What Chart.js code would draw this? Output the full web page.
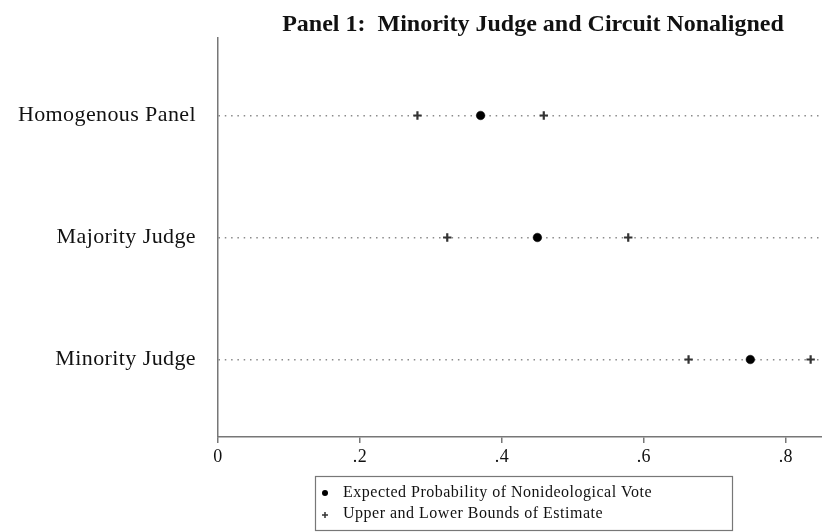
<!DOCTYPE html>
<html>
<head>
<meta charset="utf-8">
<script src="https://cdn.jsdelivr.net/npm/chart.js@4/dist/chart.umd.min.js"></script>
<style>
  html, body { margin: 0; padding: 0; background: #fff; }
  #wrap { width: 822px; height: 532px; }
</style>
</head>
<body>
<div id="wrap"><canvas id="c" width="822" height="532"></canvas></div>
<script>
// Row labels, listed top to bottom
const categories = ['Homogenous Panel', 'Majority Judge', 'Minority Judge'];
// Expected probability of a nonideological vote per row
const expected = [0.37, 0.45, 0.75];
// Lower and upper bounds of each estimate
const lowerBound = [0.281, 0.323, 0.663];
const upperBound = [0.459, 0.578, 0.835];
// Horizontal axis ticks
const xTickValues = [0, 0.2, 0.4, 0.6, 0.8];
const titleText = 'Panel 1:  Minority Judge and Circuit Nonaligned';
const seriesLabels = ['Expected Probability of Nonideological Vote', 'Upper and Lower Bounds of Estimate'];

const SERIF = '"Liberation Serif", "Times New Roman", serif';
// first category sits on the top row
const rowOf = i => categories.length - i;

const pointData = expected.map((v, i) => ({ x: v, y: rowOf(i) }));
const boundData = [];
lowerBound.forEach((v, i) => boundData.push({ x: v, y: rowOf(i) }));
upperBound.forEach((v, i) => boundData.push({ x: v, y: rowOf(i) }));

// slightly wider lettering for the axis labels
const spacingPlugin = {
  id: 'letterSpacing',
  beforeDraw(chart) { chart.ctx.letterSpacing = '0.4px'; }
};

const titlePlugin = {
  id: 'panelTitle',
  afterDraw(chart) {
    const ctx = chart.ctx;
    ctx.save();
    ctx.letterSpacing = '0px';
    ctx.font = 'bold 24px ' + SERIF;
    ctx.fillStyle = '#111';
    ctx.textAlign = 'center';
    ctx.textBaseline = 'alphabetic';
    ctx.fillText(titleText, 533, 31);
    ctx.restore();
  }
};

const boxLegendPlugin = {
  id: 'boxLegend',
  afterDraw(chart) {
    const ctx = chart.ctx;
    const ds = chart.data.datasets;
    ctx.save();
    ctx.strokeStyle = '#777';
    ctx.lineWidth = 1.2;
    ctx.strokeRect(315.5, 476.5, 417, 54);
    // dot entry
    ctx.fillStyle = ds[0].backgroundColor;
    ctx.beginPath();
    ctx.arc(325, 493, 3, 0, Math.PI * 2);
    ctx.fill();
    // cross entry
    ctx.strokeStyle = ds[1].borderColor;
    ctx.lineWidth = 1.5;
    ctx.beginPath();
    ctx.moveTo(322, 515); ctx.lineTo(328, 515);
    ctx.moveTo(325, 512); ctx.lineTo(325, 518);
    ctx.stroke();
    ctx.fillStyle = '#111';
    ctx.letterSpacing = '0.5px';
    ctx.font = '16px ' + SERIF;
    ctx.textAlign = 'left';
    ctx.textBaseline = 'middle';
    ctx.fillText(ds[0].label, 343, 493);
    ctx.fillText(ds[1].label, 343, 514);
    ctx.restore();
  }
};

new Chart(document.getElementById('c'), {
  type: 'scatter',
  data: {
    datasets: [
      {
        label: seriesLabels[0],
        data: pointData,
        pointStyle: 'circle',
        pointRadius: 4.3,
        backgroundColor: '#000',
        borderColor: '#000',
        borderWidth: 0.5,
        order: 0
      },
      {
        label: seriesLabels[1],
        data: boundData,
        pointStyle: 'cross',
        pointRadius: 4.2,
        borderWidth: 2.2,
        borderColor: '#333',
        backgroundColor: '#333',
        order: 1
      }
    ]
  },
  options: {
    responsive: false,
    animation: false,
    devicePixelRatio: 1,
    layout: { autoPadding: false, padding: { top: 38, right: 0, bottom: 0, left: 0 } },
    plugins: {
      legend: { display: false },
      tooltip: { enabled: false },
      title: { display: false }
    },
    scales: {
      x: {
        type: 'linear',
        position: 'bottom',
        min: 0,
        max: 0.851,
        afterBuildTicks: s => { s.ticks = xTickValues.map(v => ({ value: v })); },
        afterFit: s => { s.height = 95; s.paddingLeft = 0; s.paddingRight = 0; },
        ticks: {
          autoSkip: false,
          maxRotation: 0,
          padding: 3,
          color: '#111',
          font: { family: SERIF, size: 18 },
          callback: v => (v === 0 ? '0' : String(v).replace(/^0/, ''))
        },
        grid: {
          drawOnChartArea: false,
          drawTicks: true,
          tickLength: 6,
          color: '#777',
          lineWidth: 1.5
        },
        border: { display: true, color: '#777', width: 1.5 }
      },
      y: {
        type: 'linear',
        position: 'left',
        min: 0.365,
        max: 3.635,
        afterBuildTicks: s => { s.ticks = categories.map((c, i) => ({ value: rowOf(i) })); },
        afterFit: s => { s.width = 218; s.paddingTop = 0; s.paddingBottom = 0; },
        ticks: {
          padding: 22,
          color: '#111',
          font: { family: SERIF, size: 22 },
          callback: v => categories[categories.length - v]
        },
        grid: {
          drawTicks: false,
          color: '#8a8a8a',
          lineWidth: 1.4
        },
        border: { display: true, color: '#777', width: 1.5, dash: [1.5, 4.8] }
      }
    }
  },
  plugins: [spacingPlugin, titlePlugin, boxLegendPlugin]
});
</script>
</body>
</html>
